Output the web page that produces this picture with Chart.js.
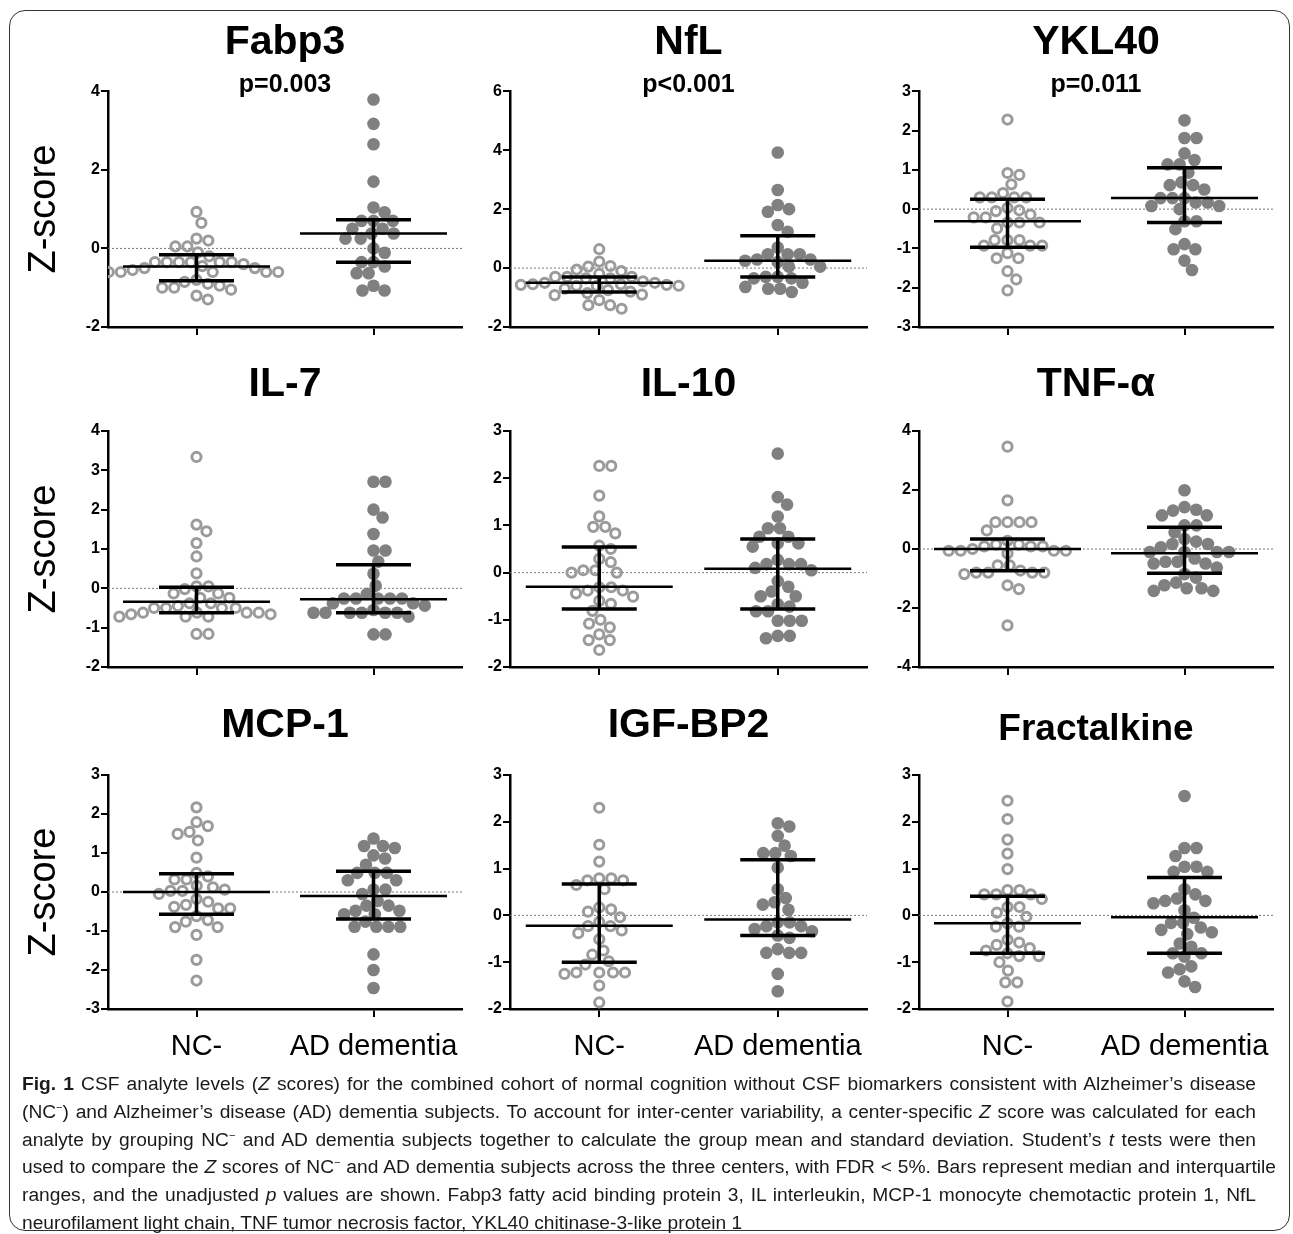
<!DOCTYPE html>
<html>
<head>
<meta charset="utf-8">
<script src="https://cdn.jsdelivr.net/npm/chart.js@4.4.1/dist/chart.umd.min.js"></script>
<style>
  body { margin: 0; width: 1293px; height: 1234px; background: #fff; position: relative; overflow: hidden; }
  .frame { position: absolute; left: 9px; top: 10px; width: 1279px; height: 1219px; border: 1.5px solid #333; border-radius: 16px; }
  .panel { position: absolute; }
  .caption { position: absolute; left: 22px; top: 1070px; font-family: "Liberation Sans", Arial, sans-serif; font-size: 19.2px; line-height: 27.8px; color: #1a1a1a; white-space: nowrap; }
  .caption div { text-align: justify; text-align-last: justify; white-space: normal; }
  .caption div.last { text-align-last: left; }
  .caption sup { font-size: 11px; line-height: 0; }
</style>
</head>
<body>
<div class="frame"></div>
<div id="panels"></div>
<div class="caption">
  <div style="width:1234px"><b>Fig. 1</b> CSF analyte levels (<i>Z</i> scores) for the combined cohort of normal cognition without CSF biomarkers consistent with Alzheimer’s disease</div>
  <div style="width:1234px">(NC<sup>−</sup>) and Alzheimer’s disease (AD) dementia subjects. To account for inter-center variability, a center-specific <i>Z</i> score was calculated for each</div>
  <div style="width:1234px">analyte by grouping NC<sup>−</sup> and AD dementia subjects together to calculate the group mean and standard deviation. Student’s <i>t</i> tests were then</div>
  <div style="width:1254px">used to compare the <i>Z</i> scores of NC<sup>−</sup> and AD dementia subjects across the three centers, with FDR &lt; 5%. Bars represent median and interquartile</div>
  <div style="width:1234px">ranges, and the unadjusted <i>p</i> values are shown. Fabp3 fatty acid binding protein 3, IL interleukin, MCP-1 monocyte chemotactic protein 1, NfL</div>
  <div class="last" style="width:900px">neurofilament light chain, TNF tumor necrosis factor, YKL40 chitinase-3-like protein 1</div>
</div>
<script>
// data
var groups = ['NC-', 'AD dementia'];
var panelTitles = ['Fabp3', 'NfL', 'YKL40', 'IL-7', 'IL-10', 'TNF-α', 'MCP-1', 'IGF-BP2', 'Fractalkine'];
var pValues = ['p=0.003', 'p<0.001', 'p=0.011', '', '', '', '', '', ''];
var yMin = [-2, -2, -3, -2, -2, -4, -3, -2, -2];
var yMax = [4, 6, 3, 4, 3, 4, 3, 3, 3];
var yStep = [2, 2, 1, 1, 1, 2, 1, 1, 1];

var fabp3NC = [0.93, 0.65, 0.25, 0.2, 0.05, 0.05, -0.1, -0.2, -0.35, -0.35, -0.35, -0.35, -0.35, -0.35, -0.4, -0.45, -0.5, -0.5, -0.55, -0.6, -0.6, -0.6, -0.6, -0.6, -0.8, -0.85, -0.9, -0.95, -1.0, -1.0, -1.05, -1.2, -1.3];
var fabp3AD = [3.79, 3.17, 2.65, 1.7, 1.04, 0.92, 0.7, 0.7, 0.7, 0.5, 0.5, 0.38, 0.38, 0.25, 0.25, 0.0, -0.11, -0.35, -0.35, -0.46, -0.63, -0.63, -0.95, -1.07, -1.07];
var nflNC = [0.64, 0.22, 0.07, 0.05, -0.05, -0.1, -0.2, -0.3, -0.3, -0.3, -0.35, -0.35, -0.45, -0.5, -0.5, -0.55, -0.55, -0.57, -0.57, -0.6, -0.6, -0.6, -0.7, -0.75, -0.8, -0.85, -0.9, -0.92, -1.09, -1.26, -1.26, -1.38];
var nflAD = [3.92, 2.65, 2.14, 2.0, 1.91, 1.46, 1.23, 0.7, 0.47, 0.47, 0.47, 0.29, 0.29, 0.25, 0.2, 0.05, 0.05, -0.3, -0.3, -0.35, -0.35, -0.5, -0.64, -0.7, -0.7, -0.81];
var ykl40NC = [2.28, 0.92, 0.87, 0.63, 0.41, 0.3, 0.3, 0.3, 0.3, 0.03, -0.03, -0.05, -0.14, -0.21, -0.21, -0.34, -0.34, -0.34, -0.49, -0.79, -0.79, -0.79, -0.93, -0.93, -0.93, -1.12, -1.25, -1.25, -1.58, -1.79, -2.07];
var ykl40AD = [2.26, 1.81, 1.81, 1.42, 1.25, 1.14, 1.14, 0.93, 0.68, 0.61, 0.61, 0.5, 0.28, 0.28, 0.28, 0.17, 0.17, 0.08, 0.08, 0.0, -0.31, -0.31, -0.51, -0.89, -1.02, -1.02, -1.31, -1.55];
var il7NC = [3.34, 1.62, 1.45, 1.15, 0.81, 0.38, 0.05, 0.05, -0.02, -0.13, -0.13, -0.24, -0.24, -0.38, -0.38, -0.45, -0.5, -0.5, -0.5, -0.5, -0.62, -0.62, -0.62, -0.62, -0.66, -0.66, -0.72, -0.72, -0.72, -1.16, -1.16];
var il7AD = [2.71, 2.71, 2.0, 1.8, 1.38, 0.96, 0.96, 0.68, 0.37, 0.07, -0.14, -0.26, -0.26, -0.26, -0.26, -0.26, -0.38, -0.38, -0.44, -0.55, -0.62, -0.62, -0.62, -0.62, -0.62, -0.62, -0.72, -1.17, -1.17];
var il10NC = [2.26, 2.26, 1.63, 1.19, 0.97, 0.97, 0.83, 0.57, 0.5, 0.29, 0.22, 0.05, 0.05, 0.0, 0.0, -0.31, -0.31, -0.38, -0.38, -0.44, -0.51, -0.6, -0.66, -0.81, -1.0, -1.08, -1.16, -1.31, -1.43, -1.43, -1.64];
var il10AD = [2.52, 1.6, 1.44, 1.19, 0.94, 0.94, 0.76, 0.76, 0.62, 0.62, 0.55, 0.27, 0.18, 0.18, 0.18, 0.1, 0.05, -0.18, -0.3, -0.4, -0.5, -0.5, -0.67, -0.72, -0.82, -0.82, -1.02, -1.02, -1.02, -1.34, -1.34, -1.39];
var tnfNC = [3.47, 1.65, 0.91, 0.91, 0.91, 0.91, 0.63, 0.28, 0.15, 0.15, 0.09, 0.09, 0.09, 0.0, -0.06, -0.06, -0.06, -0.06, -0.15, -0.55, -0.55, -0.73, -0.8, -0.8, -0.8, -0.8, -0.85, -1.23, -1.36, -2.59];
var tnfAD = [1.99, 1.42, 1.33, 1.3, 1.14, 1.14, 0.8, 0.8, 0.57, 0.34, 0.25, 0.17, 0.17, 0.06, -0.1, -0.1, -0.1, -0.1, -0.32, -0.43, -0.43, -0.49, -0.49, -0.63, -0.85, -0.97, -1.14, -1.23, -1.33, -1.33, -1.42, -1.42];
var mcp1NC = [2.17, 1.79, 1.69, 1.54, 1.49, 1.32, 0.88, 0.49, 0.4, 0.32, 0.32, 0.16, 0.12, 0.06, 0.03, 0.03, -0.05, -0.18, -0.25, -0.33, -0.38, -0.42, -0.42, -0.62, -0.72, -0.76, -0.9, -0.9, -1.1, -1.74, -2.27];
var mcp1AD = [1.37, 1.18, 1.18, 1.13, 0.94, 0.86, 0.7, 0.49, 0.49, 0.49, 0.3, 0.3, 0.06, 0.06, -0.05, -0.23, -0.35, -0.35, -0.48, -0.48, -0.57, -0.57, -0.76, -0.89, -0.89, -0.89, -0.89, -1.6, -2.0, -2.46];
var igfbp2NC = [2.3, 1.51, 1.15, 0.79, 0.79, 0.75, 0.75, 0.65, 0.56, 0.17, 0.13, 0.08, -0.04, -0.14, -0.23, -0.23, -0.32, -0.38, -0.51, -0.75, -0.84, -0.98, -1.05, -1.22, -1.22, -1.22, -1.22, -1.25, -1.5, -1.86];
var igfbp2AD = [1.97, 1.9, 1.7, 1.49, 1.33, 1.33, 1.27, 1.02, 0.56, 0.37, 0.28, 0.23, 0.12, -0.15, -0.15, -0.23, -0.23, -0.29, -0.34, -0.43, -0.48, -0.72, -0.8, -0.8, -0.8, -1.25, -1.62];
var fractalkineNC = [2.45, 2.06, 1.62, 1.32, 0.99, 0.54, 0.54, 0.45, 0.45, 0.45, 0.35, 0.18, 0.18, 0.06, -0.03, -0.17, -0.24, -0.24, -0.52, -0.58, -0.63, -0.7, -0.75, -0.81, -0.87, -0.87, -1.0, -1.18, -1.43, -1.43, -1.84];
var fractalkineAD = [2.55, 1.44, 1.44, 1.27, 1.04, 1.04, 0.93, 0.93, 0.56, 0.45, 0.36, 0.31, 0.31, 0.26, 0.11, -0.05, -0.16, -0.16, -0.26, -0.31, -0.36, -0.4, -0.6, -0.67, -0.81, -0.81, -0.88, -1.09, -1.15, -1.22, -1.41, -1.53];

// median and interquartile bars as drawn
var ncMedian = [-0.46, -0.5, -0.31, -0.34, -0.3, 0.0, 0.0, -0.22, -0.17];
var ncQ1 = [-0.82, -0.81, -0.97, -0.62, -0.77, -0.74, -0.57, -1.0, -0.81];
var ncQ3 = [-0.16, -0.3, 0.25, 0.03, 0.54, 0.34, 0.47, 0.67, 0.41];
var adMedian = [0.38, 0.25, 0.28, -0.28, 0.08, -0.14, -0.1, -0.09, -0.04];
var adQ1 = [-0.35, -0.3, -0.34, -0.62, -0.77, -0.82, -0.69, -0.43, -0.81];
var adQ3 = [0.73, 1.1, 1.05, 0.6, 0.71, 0.74, 0.53, 1.19, 0.81];

var ncSeries = [fabp3NC, nflNC, ykl40NC, il7NC, il10NC, tnfNC, mcp1NC, igfbp2NC, fractalkineNC];
var adSeries = [fabp3AD, nflAD, ykl40AD, il7AD, il10AD, tnfAD, mcp1AD, igfbp2AD, fractalkineAD];

// page layout
var axisX = [108, 510, 919];
var plotRight = [462, 867, 1273];
var rowTop = [0, 340, 680];
var plotTop = [92, 431, 775];
var plotBottom = [327, 667, 1009];
var titleCenter = [43, 385, 726];
var PAD_R = 16;

var FONT = '"Liberation Sans", Arial, Helvetica, sans-serif';
var DOT = 12;

// simple beeswarm: horizontal pixel offsets so dots do not overlap
function swarm(values, pxPerY) {
    var order = values.map(function (v, i) { return i; }).sort(function (a, b) { return values[b] - values[a]; });
    var placed = [];
    var out = [];
    order.forEach(function (i) {
        var y = values[i] * pxPerY;
        var near = placed.filter(function (p) { return Math.abs(p.y - y) < DOT; });
        var cands = [0];
        near.forEach(function (p) {
            var dx = Math.sqrt(DOT * DOT - (p.y - y) * (p.y - y));
            cands.push(p.x + dx, p.x - dx);
        });
        cands.sort(function (a, b) { return Math.abs(a) - Math.abs(b); });
        var best = 0;
        for (var k = 0; k < cands.length; k++) {
            var c = cands[k];
            var ok = near.every(function (p) { return (p.x - c) * (p.x - c) + (p.y - y) * (p.y - y) >= DOT * DOT - 0.01; });
            if (ok) { best = c; break; }
        }
        placed.push({ x: best, y: y });
        out[i] = best;
    });
    return out;
}

function bars(c, med, q1, q3, half, cap) {
    return {
        median: [{ x: c - half, y: med }, { x: c + half, y: med }],
        iqr: [{ x: c - cap, y: q1 }, { x: c + cap, y: q1 }, { x: c, y: null },
              { x: c - cap, y: q3 }, { x: c + cap, y: q3 }, { x: c, y: null },
              { x: c, y: q1 }, { x: c, y: q3 }]
    };
}

var host = document.getElementById('panels');

panelTitles.forEach(function (title, p) {
    var col = p % 3, row = Math.floor(p / 3);
    var yW = col === 0 ? 88 : 50;
    var xH = row === 2 ? 62 : 12;
    var left = axisX[col] - yW;
    var top = rowTop[row];
    var width = plotRight[col] + PAD_R - left;
    var height = plotBottom[row] + xH - top;

    var plotW = plotRight[col] - axisX[col];
    var plotH = plotBottom[row] - plotTop[row];
    var pxPerX = plotW / 2;
    var pxPerY = plotH / (yMax[p] - yMin[p]);

    var tSize = title === 'Fractalkine' ? 37 : 41;
    var tCenter = title === 'Fractalkine' ? 730 : titleCenter[row];
    var tPadTop = tCenter - top - tSize / 2;
    var tPadBottom, subPadTop = 0;
    var subSize = 25, subLH = 0.5;
    if (pValues[p]) {
        tPadBottom = 0;
        subPadTop = 85 - (top + tPadTop + tSize) - subSize * subLH / 2;
    } else {
        tPadBottom = plotTop[row] - (top + tPadTop + tSize);
    }

    var div = document.createElement('div');
    div.className = 'panel';
    div.style.left = left + 'px';
    div.style.top = top + 'px';
    div.style.width = width + 'px';
    div.style.height = height + 'px';
    var canvas = document.createElement('canvas');
    div.appendChild(canvas);
    host.appendChild(div);

    var ncOff = swarm(ncSeries[p], pxPerY);
    var adOff = swarm(adSeries[p], pxPerY);
    var ncPts = ncSeries[p].map(function (v, i) { return { x: 0 + ncOff[i] / pxPerX, y: v }; });
    var adPts = adSeries[p].map(function (v, i) { return { x: 1 + adOff[i] / pxPerX, y: v }; });
    var half = 73.5 / pxPerX, cap = 37.5 / pxPerX;
    var ncBars = bars(0, ncMedian[p], ncQ1[p], ncQ3[p], half, cap);
    var adBars = bars(1, adMedian[p], adQ1[p], adQ3[p], half, cap);

    new Chart(canvas.getContext('2d'), {
        type: 'scatter',
        data: {
            datasets: [
                { type: 'line', data: ncBars.median.concat([{ x: 0.5, y: null }], adBars.median), borderColor: '#000', borderWidth: 2.5, pointRadius: 0, spanGaps: false, order: 0 },
                { type: 'line', data: ncBars.iqr.concat([{ x: 0.5, y: null }], adBars.iqr), borderColor: '#000', borderWidth: 3.5, pointRadius: 0, spanGaps: false, order: 0 },
                { data: ncPts, pointRadius: 4.6, borderWidth: 3, borderColor: '#9b9b9b', backgroundColor: 'rgba(255,255,255,0)', order: 1 },
                { data: adPts, pointRadius: 6.3, borderWidth: 0, backgroundColor: '#808080', order: 1 },
                { type: 'line', data: [{ x: -0.5, y: 0 }, { x: 1.5, y: 0 }], borderColor: '#777', borderWidth: 1, borderDash: [2, 2], pointRadius: 0, order: 2 }
            ]
        },
        options: {
            responsive: true,
            maintainAspectRatio: false,
            animation: false,
            events: [],
            layout: { padding: { left: 0, right: PAD_R, top: 0, bottom: 0 } },
            plugins: {
                legend: { display: false },
                tooltip: { enabled: false },
                title: {
                    display: true, text: title, color: '#000', fullSize: false,
                    font: { family: FONT, size: tSize, weight: 'bold', lineHeight: 1 },
                    padding: { top: tPadTop, bottom: tPadBottom }
                },
                subtitle: {
                    display: !!pValues[p], text: pValues[p], color: '#000', fullSize: false,
                    font: { family: FONT, size: subSize, weight: 'bold', lineHeight: subLH },
                    padding: { top: subPadTop, bottom: 0 }
                }
            },
            scales: {
                x: {
                    type: 'linear', min: -0.5, max: 1.5,
                    afterBuildTicks: function (s) { s.ticks = [{ value: 0 }, { value: 1 }]; },
                    afterFit: function (s) { s.height = xH; },
                    ticks: {
                        display: row === 2,
                        autoSkip: false, maxRotation: 0,
                        padding: 13,
                        color: '#000',
                        font: { family: FONT, size: 29 },
                        callback: function (v) { return groups[v]; }
                    },
                    grid: { display: true, drawOnChartArea: false, drawTicks: true, tickLength: 8, color: '#000', lineWidth: 2 },
                    border: { display: true, color: '#000', width: 2.5 }
                },
                y: {
                    min: yMin[p], max: yMax[p],
                    afterFit: function (s) { s.width = yW; },
                    ticks: {
                        stepSize: yStep[p], padding: 1, color: '#000',
                        font: { family: FONT, size: 16, weight: 'bold' }
                    },
                    grid: { display: true, drawOnChartArea: false, drawTicks: true, tickLength: 7, color: '#000', lineWidth: 2 },
                    border: { display: true, color: '#000', width: 2.5 },
                    title: {
                        display: col === 0, text: 'Z-score', color: '#000',
                        font: { family: FONT, size: 38, lineHeight: 1 },
                        padding: { top: 6, bottom: 0 }
                    }
                }
            }
        }
    });
});
</script>
</body>
</html>
